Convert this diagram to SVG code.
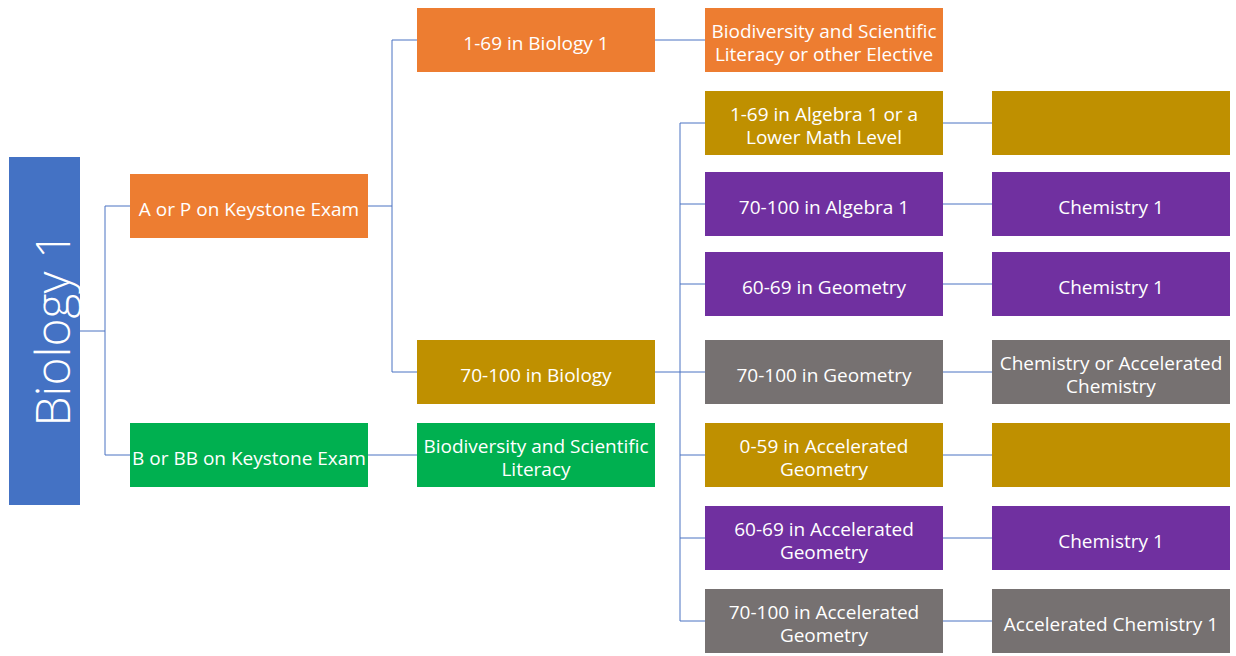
<svg xmlns="http://www.w3.org/2000/svg" width="1236" height="656" viewBox="0 0 1236 656">
  <style>
    .box { stroke: none; }
    .orange { fill: #ED7D31; }
    .gold { fill: #BF9000; }
    .green { fill: #00B050; }
    .purple { fill: #7030A0; }
    .gray { fill: #767171; }
    .blue { fill: #4472C4; }
    .lbl { font-family: "Open Sans", "Liberation Sans", sans-serif; font-size: 19px; fill: #FFFFFF; text-anchor: middle; }
    .title { font-family: "Open Sans", "Liberation Sans", sans-serif; font-size: 48px; font-weight: 300; fill: #FFFFFF; text-anchor: middle; }
    .conn { fill: none; stroke: #4A72C2; stroke-width: 1; }
  </style>

  <!-- connectors -->
  <g id="connectors">
    <!-- root to keystone outcomes -->
    <path class="conn" d="M80 331 H105 M105 206 V455 M105 206 H130 M105 455 H130"/>
    <!-- A or P branch -->
    <path class="conn" d="M368 206 H392 M392 40 V372 M392 40 H417 M392 372 H417"/>
    <!-- B or BB branch -->
    <path class="conn" d="M368 455 H417"/>
    <!-- 1-69 in Biology 1 -->
    <path class="conn" d="M655 40 H705"/>
    <!-- 70-100 in Biology fan-out -->
    <path class="conn" stroke-width="1.5" d="M655 372 H680"/>
    <path class="conn" d="M680 123 V621 M680 123 H705 M680 204 H705 M680 284 H705 M680 372 H705 M680 455 H705 M680 538 H705 M680 621 H705"/>
    <!-- math level to chemistry -->
    <path class="conn" d="M943 123 H992 M943 204 H992 M943 284 H992 M943 372 H992 M943 455 H992 M943 538 H992 M943 621 H992"/>
  </g>

  <g id="biology1">
    <rect class="box blue" x="9" y="157" width="71" height="348"/>
    <text class="title" transform="translate(70 329) rotate(-90)">Biology 1</text>
  </g>

  <g id="keystone-ap">
    <rect class="box orange" x="130" y="174" width="238" height="64"/>
    <text class="lbl" x="249" y="216">A or P on Keystone Exam</text>
  </g>

  <g id="keystone-bbb">
    <rect class="box green" x="130" y="423" width="238" height="64"/>
    <text class="lbl" x="249" y="465">B or BB on Keystone Exam</text>
  </g>

  <g id="bio-1-69">
    <rect class="box orange" x="417" y="8" width="238" height="64"/>
    <text class="lbl" x="536" y="50">1-69 in Biology 1</text>
  </g>

  <g id="bio-70-100">
    <rect class="box gold" x="417" y="340" width="238" height="64"/>
    <text class="lbl" x="536" y="382">70-100 in Biology</text>
  </g>

  <g id="biodiversity">
    <rect class="box green" x="417" y="423" width="238" height="64"/>
    <text class="lbl" x="536" y="453">Biodiversity and Scientific</text>
    <text class="lbl" x="536" y="476">Literacy</text>
  </g>

  <g id="biodiversity-elective">
    <rect class="box orange" x="705" y="8" width="238" height="64"/>
    <text class="lbl" x="824" y="38">Biodiversity and Scientific</text>
    <text class="lbl" x="824" y="61">Literacy or other Elective</text>
  </g>

  <g id="alg-1-69">
    <rect class="box gold" x="705" y="91" width="238" height="64"/>
    <text class="lbl" x="824" y="121">1-69 in Algebra 1 or a</text>
    <text class="lbl" x="824" y="144">Lower Math Level</text>
  </g>

  <g id="alg-70-100">
    <rect class="box purple" x="705" y="172" width="238" height="64"/>
    <text class="lbl" x="824" y="214">70-100 in Algebra 1</text>
  </g>

  <g id="geo-60-69">
    <rect class="box purple" x="705" y="252" width="238" height="64"/>
    <text class="lbl" x="824" y="294">60-69 in Geometry</text>
  </g>

  <g id="geo-70-100">
    <rect class="box gray" x="705" y="340" width="238" height="64"/>
    <text class="lbl" x="824" y="382">70-100 in Geometry</text>
  </g>

  <g id="accgeo-0-59">
    <rect class="box gold" x="705" y="423" width="238" height="64"/>
    <text class="lbl" x="824" y="453">0-59 in Accelerated</text>
    <text class="lbl" x="824" y="476">Geometry</text>
  </g>

  <g id="accgeo-60-69">
    <rect class="box purple" x="705" y="506" width="238" height="64"/>
    <text class="lbl" x="824" y="536">60-69 in Accelerated</text>
    <text class="lbl" x="824" y="559">Geometry</text>
  </g>

  <g id="accgeo-70-100">
    <rect class="box gray" x="705" y="589" width="238" height="64"/>
    <text class="lbl" x="824" y="619">70-100 in Accelerated</text>
    <text class="lbl" x="824" y="642">Geometry</text>
  </g>

  <g id="result-alg-1-69">
    <rect class="box gold" x="992" y="91" width="238" height="64"/>
  </g>

  <g id="result-alg-70-100">
    <rect class="box purple" x="992" y="172" width="238" height="64"/>
    <text class="lbl" x="1111" y="214">Chemistry 1</text>
  </g>

  <g id="result-geo-60-69">
    <rect class="box purple" x="992" y="252" width="238" height="64"/>
    <text class="lbl" x="1111" y="294">Chemistry 1</text>
  </g>

  <g id="result-geo-70-100">
    <rect class="box gray" x="992" y="340" width="238" height="64"/>
    <text class="lbl" x="1111" y="370">Chemistry or Accelerated</text>
    <text class="lbl" x="1111" y="393">Chemistry</text>
  </g>

  <g id="result-accgeo-0-59">
    <rect class="box gold" x="992" y="423" width="238" height="64"/>
  </g>

  <g id="result-accgeo-60-69">
    <rect class="box purple" x="992" y="506" width="238" height="64"/>
    <text class="lbl" x="1111" y="548">Chemistry 1</text>
  </g>

  <g id="result-accgeo-70-100">
    <rect class="box gray" x="992" y="589" width="238" height="64"/>
    <text class="lbl" x="1111" y="631">Accelerated Chemistry 1</text>
  </g>
</svg>
